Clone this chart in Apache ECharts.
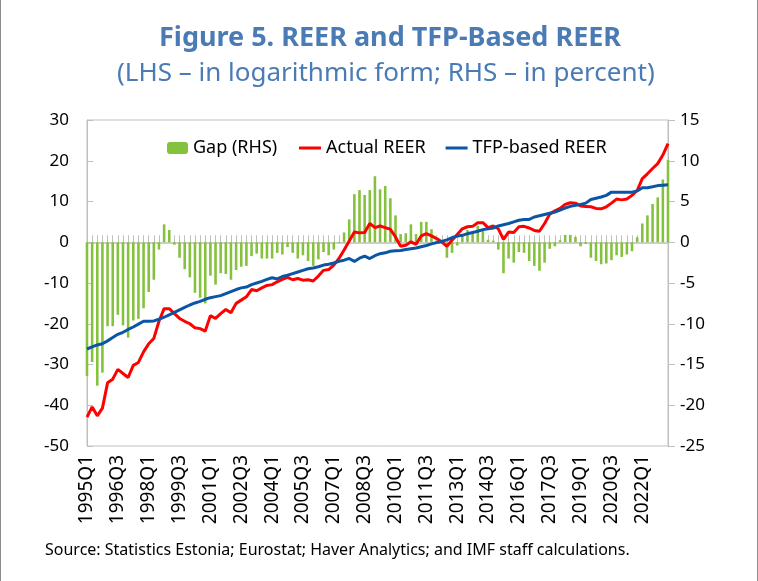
<!DOCTYPE html>
<html>
<head>
<meta charset="utf-8">
<script src="https://cdn.jsdelivr.net/npm/echarts@6/dist/echarts.min.js"></script>
<style>
  html, body { margin: 0; padding: 0; background: #fff; }
  #chart { width: 758px; height: 581px; box-sizing: border-box; border-left: 1px solid #8c8c8c; border-right: 1px solid #8c8c8c; }
</style>
</head>
<body>
<div id="chart"></div>
<script>
// quarters 1995Q1 .. 2023Q2
const quarters = [];
for (let y = 1995; y <= 2023; y++) {
  for (let q = 1; q <= 4; q++) {
    if (y === 2023 && q > 2) break;
    quarters.push(y + "Q" + q);
  }
}

// Gap (RHS), percent
const gap = [
  -16.4, -14.7, -17.6, -16.0, -10.3, -10.3, -8.9, -10.2, -11.7, -9.6,
  -9.4, -8.1, -6.1, -4.6, -0.9, 2.2, 1.5, -0.3, -1.9, -3.3,
  -4.3, -6.2, -6.8, -7.5, -4.1, -5.2, -3.8, -3.9, -4.6, -3.4,
  -3.0, -2.9, -1.7, -1.4, -2.0, -2.0, -2.0, -1.3, -1.5, -0.6,
  -1.3, -2.0, -1.6, -2.3, -2.9, -2.1, -1.2, -1.6, -0.9, -0.1,
  1.2, 2.8, 5.9, 6.4, 5.8, 6.4, 8.1, 6.5, 6.9, 5.4,
  3.3, 1.0, 1.1, 2.2, 1.0, 2.5, 2.5, 1.6, 0.2, -0.1,
  -1.9, -1.3, -0.4, 0.8, 1.5, 1.3, 2.0, 1.6, 0.3, 0.2,
  -0.9, -3.8, -2.0, -2.5, -1.2, -1.3, -2.3, -2.9, -3.5, -2.5,
  -0.8, -0.5, 0.25, 0.9, 0.9, 0.65, -0.5, -0.2, -1.9, -2.3,
  -2.7, -2.6, -2.2, -1.6, -1.8, -1.5, -1.1, 0.6, 2.3, 3.3,
  4.7, 5.5, 7.7, 10.1
];

// Actual REER (LHS), log form
const actualReer = [
  -42.9, -40.4, -42.6, -40.7, -34.5, -33.6, -31.2, -32.2, -33.2, -30.2,
  -29.5, -26.9, -24.9, -23.6, -19.4, -16.3, -16.3, -17.5, -18.7, -19.4,
  -20.0, -21.0, -21.2, -21.8, -18.0, -18.7, -17.5, -16.5, -17.3, -15.0,
  -14.2, -13.4, -11.6, -11.9, -11.2, -10.6, -10.4, -9.7, -9.1, -8.6,
  -9.2, -8.9, -9.3, -9.2, -9.5, -8.3, -6.9, -6.7, -5.6, -4.0,
  -1.9, 0.3, 2.5, 2.3, 2.4, 4.6, 3.6, 4.0, 3.6, 3.2,
  1.3, -1.0, -0.75, 0.1, -0.5, 1.55, 2.1, 1.55, 0.9, 0.1,
  -1.0, 0.5, 1.9, 3.3, 3.8, 3.9, 4.8, 4.8, 3.6, 4.0,
  3.3, 0.7, 2.5, 2.4, 3.8, 3.9, 3.5, 2.9, 2.7, 4.6,
  6.9, 7.7, 8.3, 9.3, 9.7, 9.6, 8.9, 8.8, 8.7, 8.3,
  8.2, 8.7, 9.6, 10.6, 10.4, 10.6, 11.5, 12.7, 15.6, 16.8,
  18.1, 19.3, 21.4, 24.2
];

// TFP-based REER (LHS), log form
const tfpReer = [
  -26.2, -25.7, -25.2, -24.9, -24.2, -23.4, -22.6, -22.1, -21.4, -20.8,
  -20.1, -19.4, -19.4, -19.3, -18.9, -18.4, -17.8, -17.2, -16.6, -16.0,
  -15.4, -14.9, -14.5, -14.0, -13.6, -13.35, -13.1, -12.6, -12.1, -11.6,
  -11.2, -11.0, -10.4, -10.0, -9.6, -9.1, -8.7, -9.0, -8.4, -8.1,
  -7.7, -7.3, -6.9, -6.5, -6.3, -6.0, -5.6, -5.4, -5.1, -4.7,
  -4.4, -4.0, -4.7, -3.9, -3.4, -4.0, -3.3, -2.8, -2.6, -2.2,
  -2.1, -2.0, -1.8, -1.6, -1.4, -1.1, -0.8, -0.4, -0.1, 0.2,
  0.6, 1.1, 1.5, 1.7, 2.1, 2.4, 2.7, 3.1, 3.3, 3.5,
  4.0, 4.3, 4.6, 5.0, 5.4, 5.56, 5.6, 6.2, 6.5, 6.8,
  7.1, 7.4, 7.9, 8.4, 8.8, 9.1, 9.25, 9.6, 10.5, 10.8,
  11.1, 11.5, 12.3, 12.3, 12.3, 12.3, 12.3, 12.6, 13.4, 13.4,
  13.6, 13.9, 14.0, 14.1
];

const font = "'Noto Sans', 'Open Sans', sans-serif";
const axisGray = "#bfbfbf";
const legendText = { fontSize: 18, color: "#000", fontFamily: font };

const chart = echarts.init(document.getElementById("chart"));

const options = {
  animation: false,
  textStyle: { fontFamily: font },
  title: [
    {
      text: "Figure 5. REER and TFP-Based REER",
      left: 153,
      top: 20,
      textStyle: { fontSize: 27, fontWeight: "bold", color: "#4a7bb5", fontFamily: font },
    },
    {
      text: "(LHS \u2013 in logarithmic form; RHS \u2013 in percent)",
      left: 111,
      top: 56,
      textStyle: { fontSize: 26, fontWeight: "normal", color: "#4a7bb5", fontFamily: font },
    },
  ],
  graphic: [
    {
      type: "text",
      left: 44,
      top: 542,
      style: {
        text: "Source: Statistics Estonia; Eurostat; Haver Analytics; and IMF staff calculations.",
        fontSize: 16,
        fill: "#000",
        fontFamily: font,
      },
    },
  ],
  legend: [
    {
      left: 161,
      top: 134,
      itemWidth: 21,
      itemHeight: 12,
      textStyle: legendText,
      data: ["Gap (RHS)"],
    },
    {
      left: 293,
      top: 134,
      itemGap: 20,
      itemWidth: 22,
      itemHeight: 3,
      icon: "rect",
      textStyle: legendText,
      data: ["Actual REER", "TFP-based REER"],
    },
  ],
  grid: {
    left: 86,
    right: 89,
    top: 120,
    bottom: 135,
    show: true,
    borderColor: axisGray,
    borderWidth: 1,
  },
  xAxis: [
    {
      // zero line with ticks
      type: "category",
      data: quarters,
      boundaryGap: false,
      axisLine: { onZero: true, lineStyle: { color: axisGray, width: 1.5 } },
      axisTick: { show: true, inside: true, length: 7, interval: 0, lineStyle: { color: axisGray } },
      axisLabel: { show: false },
      splitLine: { show: false },
    },
    {
      // labels along the bottom
      type: "category",
      data: quarters,
      boundaryGap: false,
      position: "bottom",
      axisLine: { show: false, onZero: false },
      axisTick: { show: false },
      axisLabel: {
        interval: 5,
        rotate: 90,
        margin: 9,
        fontSize: 19,
        color: "#000",
        fontFamily: font,
      },
      splitLine: { show: false },
    },
  ],
  yAxis: [
    {
      type: "value",
      min: -50,
      max: 30,
      interval: 10,
      axisLine: { show: true, lineStyle: { color: axisGray } },
      axisTick: { show: true, inside: true, length: 6, lineStyle: { color: axisGray } },
      axisLabel: { fontSize: 17, color: "#000", margin: 18, fontFamily: font },
      splitLine: { show: false },
    },
    {
      type: "value",
      min: -25,
      max: 15,
      interval: 5,
      position: "right",
      axisLine: { show: true, lineStyle: { color: axisGray } },
      axisTick: { show: true, inside: false, length: 7, lineStyle: { color: axisGray } },
      axisLabel: { fontSize: 17, color: "#000", margin: 12, fontFamily: font },
      splitLine: { show: false },
    },
  ],
  series: [
    {
      name: "Gap (RHS)",
      type: "bar",
      yAxisIndex: 1,
      data: gap,
      barWidth: "50%",
      itemStyle: { color: "#84c13c" },
    },
    {
      name: "Actual REER",
      type: "line",
      data: actualReer,
      symbol: "none",
      lineStyle: { color: "#ff0000", width: 3 },
      itemStyle: { color: "#ff0000" },
    },
    {
      name: "TFP-based REER",
      type: "line",
      data: tfpReer,
      symbol: "none",
      lineStyle: { color: "#0b56a4", width: 3 },
      itemStyle: { color: "#0b56a4" },
    },
  ],
};

chart.setOption(options);
</script>
</body>
</html>
